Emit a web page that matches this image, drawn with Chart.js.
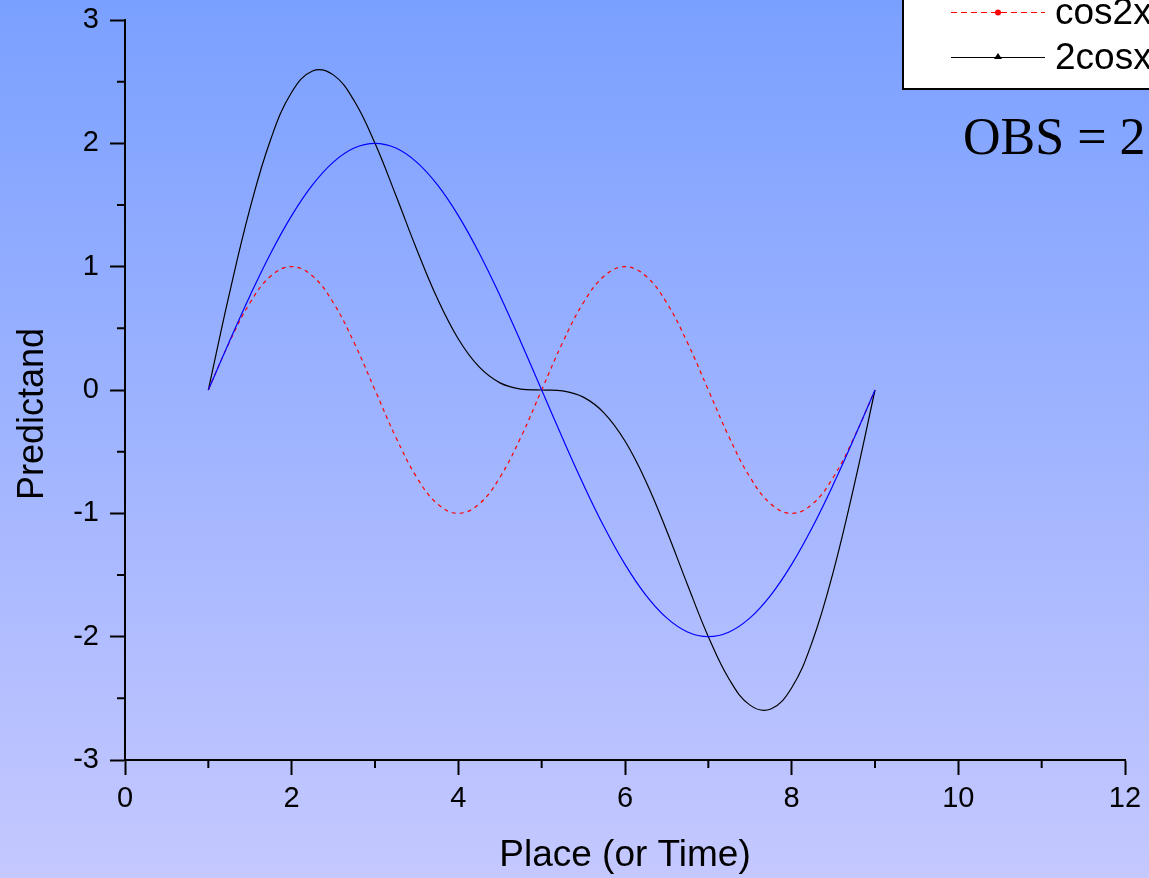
<!DOCTYPE html>
<html>
<head>
<meta charset="utf-8">
<script src="https://cdn.jsdelivr.net/npm/chart.js@4"></script>
<style>
  html, body { margin: 0; padding: 0; overflow: hidden; }
  canvas { display: block; }
</style>
</head>
<body>
<canvas id="waveChart" width="1149" height="878"></canvas>
<script>
// valori
const xValues = [1, 1.25, 1.5, 1.75, 2, 2.25, 2.5, 2.75, 3, 3.25, 3.5, 3.75, 4, 4.25, 4.5, 4.75,
                 5, 5.25, 5.5, 5.75, 6, 6.25, 6.5, 6.75, 7, 7.25, 7.5, 7.75, 8, 8.25, 8.5, 8.75, 9];
const blueValues = [0, 0.390, 0.765, 1.111, 1.414, 1.663, 1.848, 1.962, 2, 1.962, 1.848, 1.663, 1.414, 1.111, 0.765, 0.390,
                    0, -0.390, -0.765, -1.111, -1.414, -1.663, -1.848, -1.962, -2, -1.962, -1.848, -1.663, -1.414, -1.111, -0.765, -0.390, 0];
const cos2xValues = [0, 0.383, 0.707, 0.924, 1, 0.924, 0.707, 0.383, 0, -0.383, -0.707, -0.924, -1, -0.924, -0.707, -0.383,
                     0, 0.383, 0.707, 0.924, 1, 0.924, 0.707, 0.383, 0, -0.383, -0.707, -0.924, -1, -0.924, -0.707, -0.383, 0];
const twoCosxValues = [0, 0.773, 1.472, 2.035, 2.414, 2.587, 2.555, 2.345, 2, 1.579, 1.141, 0.739, 0.414, 0.187, 0.058, 0.007,
                       0, -0.007, -0.058, -0.187, -0.414, -0.739, -1.141, -1.579, -2, -2.345, -2.555, -2.587, -2.414, -2.035, -1.472, -0.773, 0];
const xTicks = [0, 2, 4, 6, 8, 10, 12];
const yTicks = [-3, -2, -1, 0, 1, 2, 3];

const toPoints = values => values.map((v, i) => ({ x: xValues[i], y: v }));

// sfondo sfumato
const backgroundPlugin = {
    id: "background",
    beforeDraw(chart) {
        const ctx = chart.ctx;
        const grad = ctx.createLinearGradient(0, 0, 0, chart.height);
        grad.addColorStop(0, "#7aa0ff");
        grad.addColorStop(1, "#c5c8ff");
        ctx.save();
        ctx.fillStyle = grad;
        ctx.fillRect(0, 0, chart.width, chart.height);
        ctx.restore();
    }
};

// tacche minori, titolo asse y, legenda e testo OBS
const extrasPlugin = {
    id: "extras",
    afterDraw(chart) {
        const ctx = chart.ctx;
        const xs = chart.scales.x;
        const ys = chart.scales.y;
        const area = chart.chartArea;
        ctx.save();
        ctx.strokeStyle = "#000";
        ctx.lineWidth = 2;
        ctx.beginPath();
        for (let v = 1; v < 12; v += 2) {
            const px = xs.getPixelForValue(v);
            ctx.moveTo(px, area.bottom);
            ctx.lineTo(px, area.bottom + 8);
        }
        for (let v = -2.5; v < 3; v += 1) {
            const py = ys.getPixelForValue(v);
            ctx.moveTo(area.left, py);
            ctx.lineTo(area.left - 8, py);
        }
        ctx.stroke();

        // titolo asse y
        ctx.save();
        ctx.translate(33, 414);
        ctx.rotate(-Math.PI / 2);
        ctx.fillStyle = "#000";
        ctx.font = "36px Arial, 'Liberation Sans', sans-serif";
        ctx.textAlign = "center";
        ctx.textBaseline = "middle";
        ctx.fillText("Predictand", 0, 0);
        ctx.restore();

        // legenda
        ctx.fillStyle = "#fff";
        ctx.fillRect(903, -5, 260, 94);
        ctx.lineWidth = 2;
        ctx.strokeRect(903, -5, 260, 94);

        const rows = [
            { ds: chart.data.datasets[1], y: 12, marker: "circle" },
            { ds: chart.data.datasets[2], y: 57, marker: "triangle" }
        ];
        rows.forEach(row => {
            ctx.strokeStyle = row.ds.borderColor;
            ctx.lineWidth = 1;
            ctx.setLineDash(row.ds.borderDash ? [6, 4] : []);
            ctx.beginPath();
            ctx.moveTo(951, row.y + 0.5);
            ctx.lineTo(1045, row.y + 0.5);
            ctx.stroke();
            ctx.setLineDash([]);
            ctx.fillStyle = row.ds.borderColor;
            ctx.beginPath();
            if (row.marker === "circle") {
                ctx.arc(998, row.y + 0.5, 3, 0, Math.PI * 2);
            } else {
                ctx.moveTo(998, row.y - 4);
                ctx.lineTo(1002, row.y + 2);
                ctx.lineTo(994, row.y + 2);
                ctx.closePath();
            }
            ctx.fill();
            ctx.fillStyle = "#000";
            ctx.font = "37px Arial, 'Liberation Sans', sans-serif";
            ctx.textAlign = "left";
            ctx.textBaseline = "middle";
            ctx.fillText(row.ds.label, 1055, row.y + 2);
        });

        // testo OBS
        ctx.fillStyle = "#000";
        ctx.font = "52px 'Times New Roman', 'Liberation Serif', serif";
        ctx.textAlign = "left";
        ctx.textBaseline = "alphabetic";
        ctx.fillText("OBS = 2", 963, 154);
        ctx.restore();
    }
};

const ctx = document.getElementById("waveChart").getContext("2d");

new Chart(ctx, {
    type: "line",
    data: {
        datasets: [
            {
                label: "2sinx",
                data: toPoints(blueValues),
                borderColor: "#0000ff",
                borderWidth: 1.2,
                pointRadius: 0,
                tension: 0.4
            },
            {
                label: "cos2x",
                data: toPoints(cos2xValues),
                borderColor: "#ff0000",
                borderWidth: 1.2,
                borderDash: [4, 4],
                pointRadius: 0,
                tension: 0.4
            },
            {
                label: "2cosx",
                data: toPoints(twoCosxValues),
                borderColor: "#000000",
                borderWidth: 1.2,
                pointRadius: 0,
                tension: 0.4
            }
        ]
    },
    options: {
        responsive: false,
        animation: false,
        layout: { padding: { top: 20, right: 24, left: 0, bottom: 0 } },
        plugins: {
            legend: { display: false },
            tooltip: { enabled: false }
        },
        scales: {
            x: {
                type: "linear",
                min: 0,
                max: 12,
                afterFit: scale => {
                    scale.height = 118;
                    scale.paddingLeft = 0;
                    scale.paddingRight = 0;
                },
                afterBuildTicks: scale => { scale.ticks = xTicks.map(v => ({ value: v })); },
                border: { display: true, color: "#000", width: 2 },
                grid: { drawOnChartArea: false, drawTicks: true, tickLength: 15, tickWidth: 2, tickColor: "#000" },
                ticks: {
                    color: "#000",
                    padding: 7,
                    maxRotation: 0,
                    font: { family: "Arial, 'Liberation Sans', sans-serif", size: 29 }
                },
                title: {
                    display: true,
                    text: "Place (or Time)",
                    color: "#000",
                    padding: { top: 0, bottom: 0 },
                    font: { family: "Arial, 'Liberation Sans', sans-serif", size: 37 }
                }
            },
            y: {
                type: "linear",
                min: -3,
                max: 3,
                afterFit: scale => {
                    scale.width = 125;
                    scale.paddingTop = 0;
                    scale.paddingBottom = 0;
                },
                afterBuildTicks: scale => { scale.ticks = yTicks.map(v => ({ value: v })); },
                border: { display: true, color: "#000", width: 2 },
                grid: { drawOnChartArea: false, drawTicks: true, tickLength: 15, tickWidth: 2, tickColor: "#000" },
                ticks: {
                    color: "#000",
                    padding: 11,
                    font: { family: "Arial, 'Liberation Sans', sans-serif", size: 29 }
                }
            }
        }
    },
    plugins: [backgroundPlugin, extrasPlugin]
});
</script>
</body>
</html>
